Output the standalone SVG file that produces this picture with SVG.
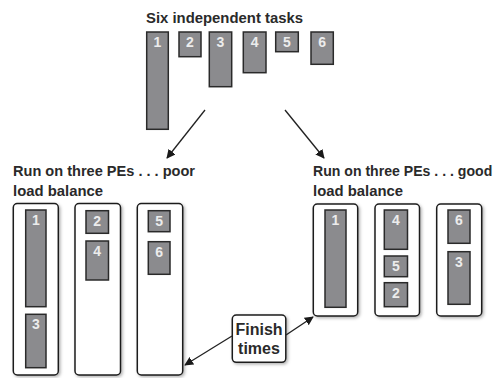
<svg xmlns="http://www.w3.org/2000/svg" width="497" height="378" viewBox="0 0 497 378">
<style>
.t{fill:#8b8b8e;stroke:#2a2a2a;stroke-width:1.5}
.pe{fill:#fff;stroke:#1e1e1e;stroke-width:1.5;filter:url(#sh)}
.n{font-family:"Liberation Sans",Arial,sans-serif;font-weight:bold;font-size:14px;fill:#ececec;text-anchor:middle}
.h{font-family:"Liberation Sans",Arial,sans-serif;font-weight:bold;font-size:15px;fill:#2a2a2a}
.c{stroke:#222;stroke-width:1.3;fill:none;marker-end:url(#ah)}
</style>
<defs>
<filter id="sh" x="-20%" y="-20%" width="150%" height="150%">
<feDropShadow dx="1.5" dy="1.5" stdDeviation="1.5" flood-color="#000" flood-opacity="0.3"/>
</filter>
<marker id="ah" viewBox="0 0 10 10" refX="9" refY="5" markerWidth="9" markerHeight="9" markerUnits="userSpaceOnUse" orient="auto">
<path d="M0,0 L10,5 L0,10 z" fill="#1a1a1a"/>
</marker>
</defs>
<rect width="497" height="378" fill="#fff"/>

<g id="title"><text class="h" x="146" y="23" textLength="157" lengthAdjust="spacingAndGlyphs">Six independent tasks</text></g>

<g id="tasks">
<g id="task1"><rect class="t" x="146.7" y="32" width="21.6" height="97.3"/><text class="n" x="157.5" y="47">1</text></g>
<g id="task2"><rect class="t" x="179" y="32" width="22" height="24.7"/><text class="n" x="190" y="47">2</text></g>
<g id="task3"><rect class="t" x="209.3" y="32" width="22.4" height="54.7"/><text class="n" x="220.5" y="47">3</text></g>
<g id="task4"><rect class="t" x="243.3" y="32" width="22.7" height="40.7"/><text class="n" x="254.6" y="47">4</text></g>
<g id="task5"><rect class="t" x="275.7" y="32" width="22.6" height="19.7"/><text class="n" x="287" y="47">5</text></g>
<g id="task6"><rect class="t" x="311" y="32" width="22.3" height="32.3"/><text class="n" x="322.1" y="47">6</text></g>
</g>

<g id="poor-label">
<text class="h" x="13" y="176" textLength="182" lengthAdjust="spacingAndGlyphs">Run on three PEs . . . poor</text>
<text class="h" x="13" y="196" textLength="90" lengthAdjust="spacingAndGlyphs">load balance</text>
</g>

<g id="poor-pe1"><rect class="pe" x="13.3" y="203.5" width="45" height="171.5" rx="4"/>
<rect class="t" x="25.7" y="210" width="20.3" height="96.7"/><text class="n" x="35.8" y="225">1</text>
<rect class="t" x="25.7" y="314.3" width="20.3" height="53.4"/><text class="n" x="35.8" y="329">3</text>
</g>
<g id="poor-pe2"><rect class="pe" x="75" y="203.5" width="45.5" height="171.5" rx="4"/>
<rect class="t" x="86" y="210.7" width="22.5" height="22.6"/><text class="n" x="97.2" y="226">2</text>
<rect class="t" x="86" y="241" width="22.5" height="39"/><text class="n" x="97.2" y="256">4</text>
</g>
<g id="poor-pe3"><rect class="pe" x="137.3" y="203.5" width="45.4" height="171.5" rx="4"/>
<rect class="t" x="148.3" y="210.7" width="21.7" height="21"/><text class="n" x="159.1" y="226">5</text>
<rect class="t" x="148.3" y="241.7" width="21.7" height="32.6"/><text class="n" x="159.1" y="257">6</text>
</g>

<g id="good-label">
<text class="h" transform="translate(313,176) scale(0.94,1)" x="0" y="0">Run on three PEs . . . good</text>
<text class="h" x="313" y="196" textLength="90" lengthAdjust="spacingAndGlyphs">load balance</text>
</g>

<g id="good-pe1"><rect class="pe" x="313.3" y="204" width="44.4" height="112" rx="4"/>
<rect class="t" x="325" y="210" width="21" height="97.3"/><text class="n" x="335.5" y="225">1</text>
</g>
<g id="good-pe2"><rect class="pe" x="375" y="204" width="44.5" height="112" rx="4"/>
<rect class="t" x="384.3" y="210" width="23.2" height="39.3"/><text class="n" x="395.9" y="225">4</text>
<rect class="t" x="384.3" y="256" width="23.2" height="20.7"/><text class="n" x="395.9" y="271">5</text>
<rect class="t" x="384.3" y="282.7" width="23.2" height="24"/><text class="n" x="395.9" y="298">2</text>
</g>
<g id="good-pe3"><rect class="pe" x="436.7" y="204" width="45" height="112" rx="4"/>
<rect class="t" x="448" y="210" width="22" height="33.3"/><text class="n" x="459" y="225">6</text>
<rect class="t" x="448" y="251.7" width="22" height="52.6"/><text class="n" x="459" y="267">3</text>
</g>

<g id="finish"><rect class="pe" x="232.3" y="315" width="53.5" height="47.3" rx="4"/>
<text class="h" x="259" y="335" text-anchor="middle" style="font-size:16px">Finish</text>
<text class="h" x="259" y="354" text-anchor="middle" style="font-size:16px">times</text>
</g>

<g id="connectors">
<line class="c" x1="205" y1="110" x2="167" y2="158"/>
<line class="c" x1="285" y1="110" x2="324" y2="158"/>
<line class="c" x1="286" y1="335" x2="313" y2="317"/>
<line class="c" x1="232" y1="336" x2="185" y2="365"/>
</g>
</svg>
